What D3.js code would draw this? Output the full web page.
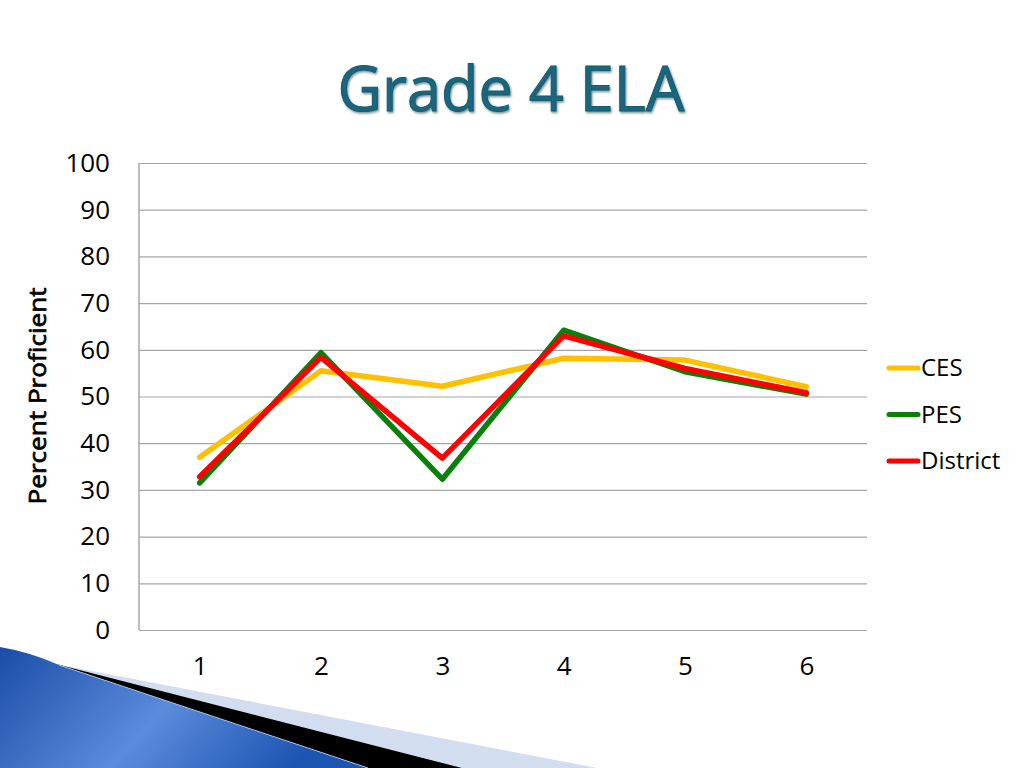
<!DOCTYPE html>
<html>
<head>
<meta charset="utf-8">
<script src="https://cdn.jsdelivr.net/npm/d3@7"></script>
<style>
  body { margin: 0; background: #fff; }
  svg { display: block; font-family: "Open Sans", "Noto Sans", sans-serif; }
</style>
</head>
<body>
<div id="chart"></div>
<script>
// chart data
const grades = [1, 2, 3, 4, 5, 6];
const cesValues = [37.0, 55.5, 52.2, 58.2, 57.8, 52.1];
const pesValues = [31.5, 59.4, 32.3, 64.2, 55.3, 50.5];
const districtValues = [32.8, 58.4, 36.8, 63.0, 56.0, 50.8];
const seriesNames = ["CES", "PES", "District"];
const seriesColors = ["#FFC000", "#0A800A", "#FF0000"];
const yTicks = [0, 10, 20, 30, 40, 50, 60, 70, 80, 90, 100];

const width = 1024, height = 768;
const plot = { left: 139, right: 867, top: 163, bottom: 630 };

const svg = d3.select("#chart")
    .append("svg")
    .attr("width", width)
    .attr("height", height);

const defs = svg.append("defs");

//blue gradient for the corner decoration
const grad = defs.append("linearGradient")
    .attr("id", "blueGrad")
    .attr("x1", "0%").attr("y1", "0%")
    .attr("x2", "100%").attr("y2", "30%");
grad.append("stop").attr("offset", "0%").attr("stop-color", "#1a4ea6");
grad.append("stop").attr("offset", "55%").attr("stop-color", "#5a8bdc");
grad.append("stop").attr("offset", "100%").attr("stop-color", "#1d56b2");

//soft bevel look for the title
const shadow = defs.append("filter").attr("id", "titleShadow");
shadow.append("feDropShadow")
    .attr("dx", 1).attr("dy", 1.5)
    .attr("stdDeviation", 1)
    .attr("flood-color", "#0b3a48")
    .attr("flood-opacity", 0.6);

// corner decoration (bottom left)
svg.append("path")
    .attr("d", "M50,663 L597,768 L462,768 Z")
    .attr("fill", "#d3ddf0");
svg.append("path")
    .attr("d", "M56,664 L462,768 L368,768 Z")
    .attr("fill", "#000");
svg.append("path")
    .attr("d", "M0,647 Q30,652 59,665 L368,768 L0,768 Z")
    .attr("fill", "url(#blueGrad)");
svg.append("path")
    .attr("d", "M59,665 L368,768")
    .attr("stroke", "#9fb8e6")
    .attr("stroke-width", 1);

// title
svg.append("text")
    .attr("x", 511)
    .attr("y", 111)
    .attr("text-anchor", "middle")
    .attr("font-size", 62)
    .attr("fill", "#1a667d")
    .attr("stroke", "#175e73")
    .attr("stroke-width", 1)
    .attr("filter", "url(#titleShadow)")
    .attr("textLength", 347)
    .attr("lengthAdjust", "spacingAndGlyphs")
    .text("Grade 4 ELA");

// scales
const x = d3.scalePoint()
    .domain(grades)
    .range([plot.left, plot.right])
    .padding(0.5);

const y = d3.scaleLinear()
    .domain([0, 100])
    .range([plot.bottom, plot.top]);

// gridlines + y labels
const yAxis = svg.append("g")
    .attr("transform", `translate(${plot.left},0)`)
    .call(d3.axisLeft(y)
        .tickValues(yTicks)
        .tickSize(-(plot.right - plot.left))
        .tickPadding(29));

yAxis.select(".domain").remove();
yAxis.selectAll(".tick line")
    .attr("stroke", "#a6a6a6")
    .attr("stroke-width", 1.2);
yAxis.selectAll(".tick text")
    .attr("font-size", 26)
    .attr("font-family", "'Open Sans', sans-serif")
    .attr("fill", "#000");

// left axis line
svg.append("line")
    .attr("x1", plot.left).attr("x2", plot.left)
    .attr("y1", plot.top).attr("y2", plot.bottom)
    .attr("stroke", "#a6a6a6")
    .attr("stroke-width", 1.5);

// x labels
const xAxis = svg.append("g")
    .attr("transform", `translate(0,${plot.bottom})`)
    .call(d3.axisBottom(x).tickSize(0).tickPadding(27));

xAxis.select(".domain").remove();
xAxis.selectAll(".tick text")
    .attr("font-size", 26)
    .attr("font-family", "'Open Sans', sans-serif")
    .attr("fill", "#000");

// y axis title
svg.append("text")
    .attr("transform", "translate(46,396) rotate(-90)")
    .attr("text-anchor", "middle")
    .attr("font-size", 24)
    .attr("fill", "#000")
    .attr("stroke", "#000")
    .attr("stroke-width", 0.7)
    .attr("textLength", 217)
    .attr("lengthAdjust", "spacingAndGlyphs")
    .text("Percent Proficient");

// lines
const allSeries = [cesValues, pesValues, districtValues];
const line = d3.line()
    .x((d, i) => x(grades[i]))
    .y(d => y(d));

svg.append("g")
    .selectAll("path")
    .data(allSeries)
    .enter().append("path")
    .attr("d", d => line(d))
    .attr("fill", "none")
    .attr("stroke", (d, i) => seriesColors[i])
    .attr("stroke-width", 5.5)
    .attr("stroke-linejoin", "round")
    .attr("stroke-linecap", "round");

// legend
const legend = svg.append("g")
    .selectAll("g")
    .data(seriesNames)
    .enter().append("g")
    .attr("transform", (d, i) => `translate(889,${368 + i * 46.5})`);

legend.append("line")
    .attr("x1", 0).attr("x2", 29)
    .attr("stroke", (d, i) => seriesColors[i])
    .attr("stroke-width", 5)
    .attr("stroke-linecap", "round");

legend.append("text")
    .attr("x", 32)
    .attr("y", 8)
    .attr("font-size", 24)
    .attr("fill", "#000")
    .text(d => d);
</script>
</body>
</html>
